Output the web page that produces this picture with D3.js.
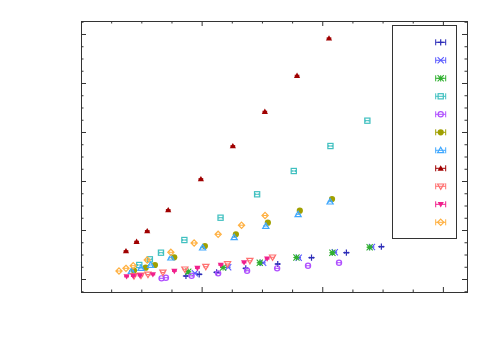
<!DOCTYPE html>
<html><head><meta charset="utf-8">
<script src="https://cdn.jsdelivr.net/npm/d3@7"></script>
<style>html,body{margin:0;padding:0;background:#fff;}svg{display:block;}</style>
</head><body>
<svg id="c" width="500" height="350"></svg>
<script>
// ---- data (arbitrary units) ----
const seriesNames = ["", "", "", "", "", "", "", "", "", "", ""];
const seriesColors = ["#2c2cb8", "#5a5aff", "#30b030", "#40c0c0", "#b050ff", "#a0a000", "#40a8ff", "#a00000", "#ff7070", "#f0208c", "#ffb040"];
const seriesSymbols = ["plus", "cross", "star", "square", "circle", "circleFill", "triangle", "triangleFill", "triDown", "triDownFill", "diamond"];

const s1x = [8.70, 9.80, 11.24, 13.66, 16.31, 19.11, 22.00, 24.90];
const s1y = [0.61, 0.96, 1.37, 2.18, 3.06, 4.35, 5.37, 6.59];
const s2x = [9.44, 12.20, 15.10, 18.05, 21.04, 24.12];
const s2y = [1.16, 2.39, 3.33, 4.35, 5.45, 6.53];
const s3x = [8.89, 11.78, 14.82, 17.86, 20.84, 23.93];
const s3y = [1.49, 2.35, 3.33, 4.39, 5.37, 6.47];
const s4x = [4.83, 5.71, 6.63, 8.57, 11.57, 14.60, 17.64, 20.68, 23.74];
const s4y = [2.86, 4.02, 5.37, 7.96, 12.51, 17.29, 22.04, 27.14, 32.31];
const s5x = [6.68, 7.04, 9.17, 11.37, 13.77, 16.26, 18.82, 21.39];
const s5y = [0.14, 0.27, 0.65, 1.16, 1.69, 2.18, 2.71, 3.33];
const s6x = [4.39, 5.36, 6.13, 7.73, 10.27, 12.84, 15.49, 18.14, 20.81];
const s6y = [1.73, 2.31, 2.86, 4.43, 6.73, 9.12, 11.49, 13.94, 16.33];
const s7x = [4.18, 4.97, 5.77, 7.45, 10.08, 12.70, 15.32, 18.00, 20.65];
const s7y = [1.63, 2.24, 2.86, 4.35, 6.39, 8.51, 10.82, 13.20, 15.78];
const s8x = [3.73, 4.61, 5.49, 7.23, 9.94, 12.59, 15.24, 17.91, 20.56];
const s8y = [5.71, 7.61, 9.80, 14.08, 20.41, 27.14, 34.14, 41.49, 49.12];
const s9x = [4.39, 4.97, 5.55, 6.79, 8.61, 10.35, 12.15, 14.00, 15.88];
const s9y = [0.61, 0.71, 0.92, 1.33, 1.98, 2.51, 3.06, 3.73, 4.43];
const s10x = [3.78, 4.33, 4.89, 5.96, 7.74, 9.65, 11.59, 13.52, 15.43];
const s10y = [0.51, 0.61, 0.71, 0.92, 1.63, 2.24, 2.86, 3.37, 4.14];
const s11x = [3.15, 3.73, 4.33, 5.49, 7.45, 9.38, 11.37, 13.31, 15.26];
const s11y = [1.63, 2.18, 2.71, 3.88, 5.45, 7.35, 9.12, 10.98, 12.96];
const xErr = 0.15;

const xMajorTicks = [0, 10, 20, 30];
const yMajorTicks = [0, 10, 20, 30, 40, 50];

const allX = [s1x, s2x, s3x, s4x, s5x, s6x, s7x, s8x, s9x, s10x, s11x];
const allY = [s1y, s2y, s3y, s4y, s5y, s6y, s7y, s8y, s9y, s10y, s11y];

// ---- layout ----
const L = 81, R = 467, T = 21, B = 292;
const svg = d3.select("#c");
const x = d3.scaleLinear().domain([0, 32]).range([L, R]);
const y = d3.scaleLinear().domain([-2.65, 52.65]).range([B, T]);

const xMinor = d3.range(0, 32.01, 2.5).filter(v => !xMajorTicks.includes(v));
const yMinor = d3.range(-2.5, 52.6, 2.5).filter(v => !yMajorTicks.includes(v));

function axisGroup(axisFn, scale, ticks, size, transform) {
  const g = svg.append("g").attr("transform", transform)
    .call(axisFn(scale).tickValues(ticks).tickSize(size).tickFormat(""));
  g.select(".domain").remove();
  g.selectAll("line").attr("stroke", "#333").attr("stroke-width", 1);
  return g;
}
// ticks point inward on all four sides
axisGroup(d3.axisTop, x, xMajorTicks, 5, `translate(0,${B})`);
axisGroup(d3.axisTop, x, xMinor, 2.5, `translate(0,${B})`);
axisGroup(d3.axisBottom, x, xMajorTicks, 5, `translate(0,${T})`);
axisGroup(d3.axisBottom, x, xMinor, 2.5, `translate(0,${T})`);
axisGroup(d3.axisRight, y, yMajorTicks, 5, `translate(${L},0)`);
axisGroup(d3.axisRight, y, yMinor, 2.5, `translate(${L},0)`);
axisGroup(d3.axisLeft, y, yMajorTicks, 5, `translate(${R},0)`);
axisGroup(d3.axisLeft, y, yMinor, 2.5, `translate(${R},0)`);

svg.append("rect").attr("x", L + 0.5).attr("y", T + 0.5)
  .attr("width", R - L).attr("height", B - T)
  .attr("fill", "none").attr("stroke", "#333").attr("stroke-width", 1);

// ---- marker drawing ----
function drawMarker(g, type, cx, cy, color, r) {
  switch (type) {
    case "plus":
      g.append("path").attr("d", `M${cx - r},${cy}H${cx + r}M${cx},${cy - r}V${cy + r}`)
        .attr("stroke", color).attr("stroke-width", 1.2).attr("fill", "none"); break;
    case "cross":
      g.append("path").attr("d", `M${cx - r},${cy - r}L${cx + r},${cy + r}M${cx - r},${cy + r}L${cx + r},${cy - r}`)
        .attr("stroke", color).attr("stroke-width", 1.1).attr("fill", "none"); break;
    case "star":
      g.append("path").attr("d", `M${cx - r},${cy}H${cx + r}M${cx},${cy - r}V${cy + r}M${cx - r},${cy - r}L${cx + r},${cy + r}M${cx - r},${cy + r}L${cx + r},${cy - r}`)
        .attr("stroke", color).attr("stroke-width", 1.1).attr("fill", "none"); break;
    case "square":
      g.append("rect").attr("x", cx - r + 0.5).attr("y", cy - r + 0.5).attr("width", 2 * r - 1).attr("height", 2 * r - 1)
        .attr("stroke", color).attr("stroke-width", 1.2).attr("fill", "none"); break;
    case "circle":
      g.append("circle").attr("cx", cx).attr("cy", cy).attr("r", r - 0.5)
        .attr("stroke", color).attr("stroke-width", 1.2).attr("fill", "none"); break;
    case "circleFill":
      g.append("circle").attr("cx", cx).attr("cy", cy).attr("r", r)
        .attr("fill", color); break;
    case "triangle":
      g.append("path").attr("d", `M${cx},${cy - r}L${cx + r},${cy + r * 0.75}L${cx - r},${cy + r * 0.75}Z`)
        .attr("stroke", color).attr("stroke-width", 1.2).attr("fill", "none"); break;
    case "triangleFill":
      g.append("path").attr("d", `M${cx},${cy - r}L${cx + r},${cy + r * 0.75}L${cx - r},${cy + r * 0.75}Z`)
        .attr("fill", color); break;
    case "triDown":
      g.append("path").attr("d", `M${cx},${cy + r}L${cx + r},${cy - r * 0.75}L${cx - r},${cy - r * 0.75}Z`)
        .attr("stroke", color).attr("stroke-width", 1.2).attr("fill", "none"); break;
    case "triDownFill":
      g.append("path").attr("d", `M${cx},${cy + r}L${cx + r},${cy - r * 0.75}L${cx - r},${cy - r * 0.75}Z`)
        .attr("fill", color); break;
    case "diamond":
      g.append("path").attr("d", `M${cx},${cy - r}L${cx + r},${cy}L${cx},${cy + r}L${cx - r},${cy}Z`)
        .attr("stroke", color).attr("stroke-width", 1.2).attr("fill", "none"); break;
  }
}

function errBar(g, x0, x1, cy, color, cap) {
  g.append("path").attr("d", `M${x0},${cy}H${x1}M${x0},${cy - cap}V${cy + cap}M${x1},${cy - cap}V${cy + cap}`)
    .attr("stroke", color).attr("stroke-width", 1).attr("fill", "none");
}

// ---- data points ----
allX.forEach((xs, i) => {
  const g = svg.append("g").attr("class", "series");
  const col = seriesColors[i];
  xs.forEach((xv, j) => {
    const cx = x(xv), cy = y(allY[i][j]);
    errBar(g, x(xv - xErr), x(xv + xErr), cy, col, 1);
    drawMarker(g, seriesSymbols[i], cx, cy, col, 3.1);
  });
});

// ---- legend ----
const lg = svg.append("g");
lg.append("rect").attr("x", 392.5).attr("y", 25.5).attr("width", 64).attr("height", 213)
  .attr("fill", "#fff").attr("stroke", "#333").attr("stroke-width", 1);
seriesNames.forEach((name, i) => {
  const cy = 42.3 + i * 18;
  const cx = 440.7;
  errBar(lg, cx - 5, cx + 5, cy, seriesColors[i], 3);
  drawMarker(lg, seriesSymbols[i], cx, cy, seriesColors[i], 3.1);
  lg.append("text").attr("x", cx - 9).attr("y", cy + 4).attr("text-anchor", "end")
    .attr("font-family", "Liberation Sans, sans-serif").attr("font-size", 11).text(name);
});
</script>
</body></html>
